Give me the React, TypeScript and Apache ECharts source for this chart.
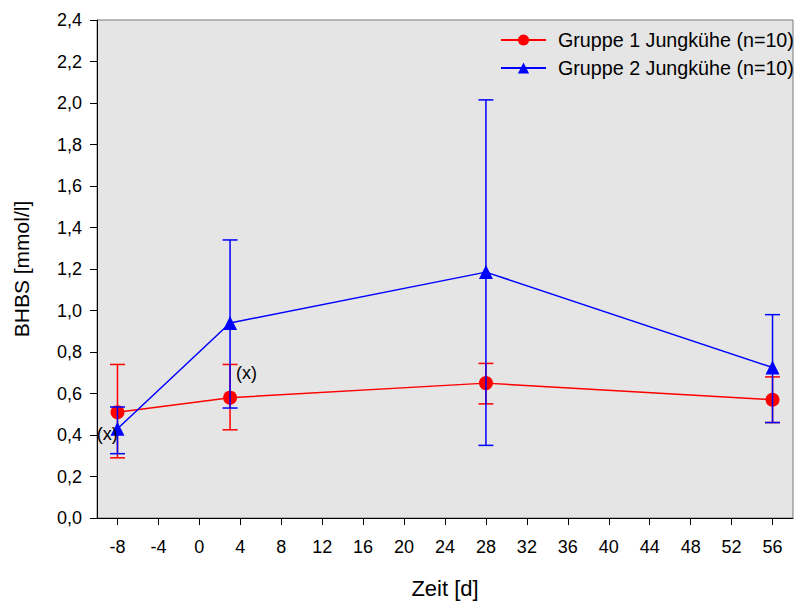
import React, { useEffect, useRef } from 'react';
import * as echarts from 'echarts';

const days = [-8, 3, 28, 56];
const g1Name = 'Gruppe 1 Jungkühe (n=10)';
const g2Name = 'Gruppe 2 Jungkühe (n=10)';
const g1Mean = [0.51, 0.58, 0.65, 0.57];
const g1Low = [0.29, 0.425, 0.55, 0.46];
const g1High = [0.74, 0.74, 0.745, 0.68];
const g2Mean = [0.43, 0.94, 1.185, 0.725];
const g2Low = [0.31, 0.53, 0.35, 0.46];
const g2High = [0.535, 1.34, 2.015, 0.98];
const xTicks = [-8, -4, 0, 4, 8, 12, 16, 20, 24, 28, 32, 36, 40, 44, 48, 52, 56];
const noteX = [-9, 4.6];
const noteY = [0.405, 0.7];
const noteText = ['(x)', '(x)'];

const FONT = "'Liberation Sans', Arial, sans-serif";

function errBar(name: string, color: string, low: number[], high: number[], z: number) {
  return {
    type: 'custom',
    name: name + ' err',
    z,
    silent: true,
    encode: { x: 0, y: [1, 2] },
    data: days.map((d, i) => [d, low[i], high[i]]),
    renderItem: (params: any, api: any) => {
      const x = api.value(0);
      const lo = api.coord([x, api.value(1)]);
      const hi = api.coord([x, api.value(2)]);
      const hw = 7.5;
      const style = { stroke: color, lineWidth: 1.5 };
      return {
        type: 'group',
        children: [
          { type: 'line', shape: { x1: lo[0], y1: lo[1], x2: hi[0], y2: hi[1] }, style },
          { type: 'line', shape: { x1: lo[0] - hw, y1: lo[1], x2: lo[0] + hw, y2: lo[1] }, style },
          { type: 'line', shape: { x1: hi[0] - hw, y1: hi[1], x2: hi[0] + hw, y2: hi[1] }, style },
        ],
      };
    },
  };
}

export default function App() {
  const ref = useRef<HTMLDivElement>(null);
  useEffect(() => {
    document.body.style.margin = '0';
    const chart = echarts.init(ref.current!, null, { renderer: 'svg' });
    chart.setOption({
      animation: false,
      backgroundColor: '#ffffff',
      textStyle: { fontFamily: FONT },
      grid: {
        left: 97,
        right: 2,
        top: 20,
        bottom: 83,
        outerBoundsMode: 'none',
        containLabel: false,
        show: true,
        backgroundColor: '#e5e5e5',
        borderColor: '#7a7a7a',
        borderWidth: 1,
      },
      legend: {
        left: 500,
        top: 30,
        orient: 'vertical',
        padding: 0,
        itemWidth: 45,
        itemHeight: 14,
        itemGap: 8,
        data: [g1Name, g2Name],
        textStyle: { fontFamily: FONT, fontSize: 19.7, color: '#000', lineHeight: 20, padding: [0, 0, 0, 7] },
      },
      xAxis: {
        type: 'value',
        min: -10,
        max: 58,
        name: 'Zeit [d]',
        nameLocation: 'middle',
        nameGap: 59,
        nameMoveOverlap: false,
        nameTextStyle: { fontFamily: FONT, fontSize: 22, color: '#000' },
        axisLine: { show: true, onZero: false, lineStyle: { color: '#000', width: 1 } },
        axisTick: { show: true, length: 7, customValues: xTicks, lineStyle: { color: '#000' } },
        axisLabel: { customValues: xTicks, fontFamily: FONT, fontSize: 18, color: '#000', margin: 20 },
        splitLine: { show: false },
      },
      yAxis: {
        type: 'value',
        min: 0,
        max: 2.4,
        interval: 0.2,
        name: 'BHBS [mmol/l]',
        nameLocation: 'middle',
        nameGap: 65,
        nameMoveOverlap: false,
        nameTextStyle: { fontFamily: FONT, fontSize: 21, color: '#000' },
        axisLine: { show: true, onZero: false, lineStyle: { color: '#000', width: 1 } },
        axisTick: { show: true, length: 7, lineStyle: { color: '#000' } },
        axisLabel: {
          fontFamily: FONT,
          fontSize: 18,
          color: '#000',
          margin: 15,
          formatter: (v: number) => v.toFixed(1).replace('.', ','),
        },
        splitLine: { show: false },
      },
      series: [
        errBar(g1Name, '#ff0000', g1Low, g1High, 1),
        {
          type: 'line',
          name: g1Name,
          z: 2,
          data: days.map((d, i) => [d, g1Mean[i]]),
          symbol: 'circle',
          symbolSize: 14,
          itemStyle: { color: '#ff0000' },
          lineStyle: { color: '#ff0000', width: 1.5 },
        },
        errBar(g2Name, '#0000ff', g2Low, g2High, 3),
        {
          type: 'line',
          name: g2Name,
          z: 4,
          data: days.map((d, i) => [d, g2Mean[i]]),
          symbol: 'triangle',
          symbolSize: 14,
          itemStyle: { color: '#0000ff' },
          lineStyle: { color: '#0000ff', width: 1.5 },
        },
        {
          type: 'scatter',
          name: 'notes',
          z: 5,
          silent: true,
          symbolSize: 1,
          itemStyle: { color: '#e5e5e5', opacity: 0 },
          data: noteX.map((x, i) => ({ value: [x, noteY[i]], name: noteText[i] })),
          label: {
            show: true,
            position: 'inside',
            formatter: '{b}',
            fontFamily: FONT,
            fontSize: 18,
            color: '#000',
            opacity: 1,
            textBorderWidth: 0,
          },
        },
      ],
    });
    return () => chart.dispose();
  }, []);
  return <div ref={ref} style={{ width: 795, height: 601 }} />;
}
